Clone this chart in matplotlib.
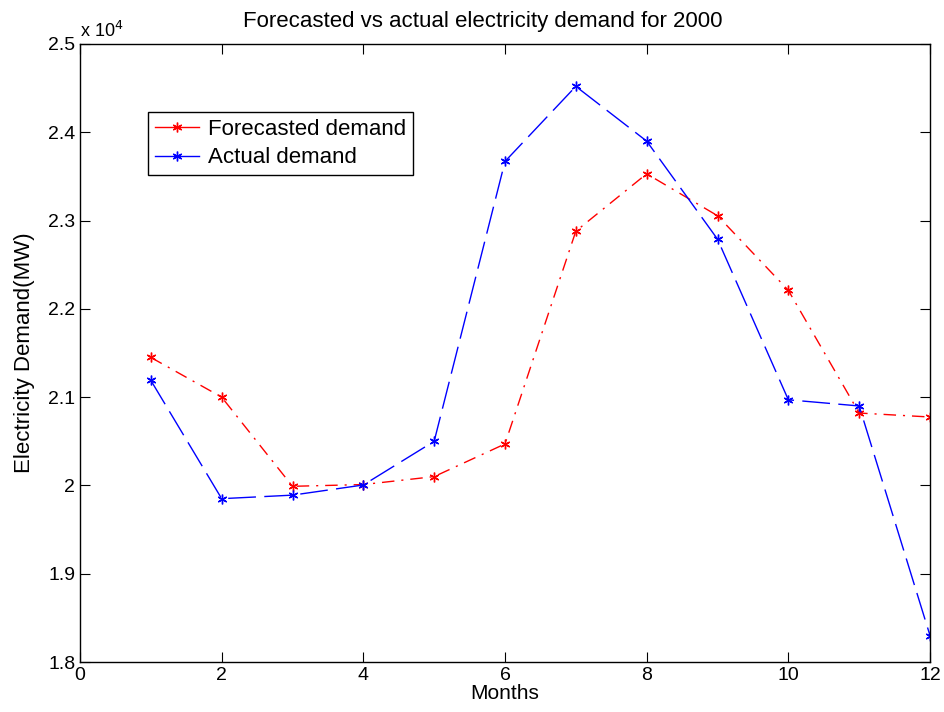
import matplotlib
matplotlib.use("Agg")
import matplotlib.pyplot as plt
from matplotlib.ticker import FuncFormatter, MultipleLocator
from matplotlib.lines import Line2D

months = [1, 2, 3, 4, 5, 6, 7, 8, 9, 10, 11, 12]
forecasted = [21450, 21000, 19990, 20010, 20100, 20470, 22880, 23530, 23055, 22210, 20820, 20775]
actual = [21190, 19850, 19890, 20005, 20500, 23670, 24520, 23900, 22790, 20970, 20900, 18300]

plt.rcParams['font.family'] = ['Liberation Sans', 'DejaVu Sans']

fig = plt.figure(figsize=(9.44, 7.12), dpi=100)
ax = fig.add_axes([80/944, 50/712, 850/944, 618/712])

ast = (6, 2, 0)
ax.plot(months, forecasted, color='red', linestyle=(0, (9, 5, 1.5, 5)), linewidth=1.0,
        marker=ast, markersize=7, markeredgewidth=1.0)
ax.plot(months, actual, color='blue', linestyle=(0, (20, 6)), linewidth=1.0,
        marker=ast, markersize=7, markeredgewidth=1.0)

ax.set_xlim(0, 12)
ax.set_ylim(18000, 25000)
ax.xaxis.set_major_locator(MultipleLocator(2))
ax.yaxis.set_major_locator(MultipleLocator(1000))
ax.yaxis.set_major_formatter(FuncFormatter(lambda v, p: f"{v/1e4:g}"))
ax.tick_params(direction='in', length=7, width=0.8, top=True, right=True, labelsize=14)
for s in ax.spines.values():
    s.set_linewidth(1.0)

ax.text(0.0, 1.005, r"x 10$^{4}$", transform=ax.transAxes, fontsize=13, ha='left', va='bottom')
ax.set_title("Forecasted vs actual electricity demand for 2000", fontsize=16, pad=12, x=0.474)
ax.set_xlabel("Months", fontsize=15, labelpad=0)
ax.set_ylabel("Electricity Demand(MW)", fontsize=16, labelpad=9)

handles = [Line2D([], [], color='red', marker=ast, markersize=7, markeredgewidth=1.0, linewidth=1.0),
           Line2D([], [], color='blue', marker=ast, markersize=7, markeredgewidth=1.0, linewidth=1.0)]
leg = ax.legend(handles, ["Forecasted demand", "Actual demand"], loc='upper left',
                bbox_to_anchor=(0.08, 0.89), fontsize=16, frameon=True, fancybox=False,
                edgecolor='black', framealpha=1, handlelength=2.0, borderpad=0.3,
                labelspacing=0.35, handletextpad=0.4, borderaxespad=0)
leg.get_frame().set_linewidth(1.0)

fig.savefig("out.png", dpi=100)
